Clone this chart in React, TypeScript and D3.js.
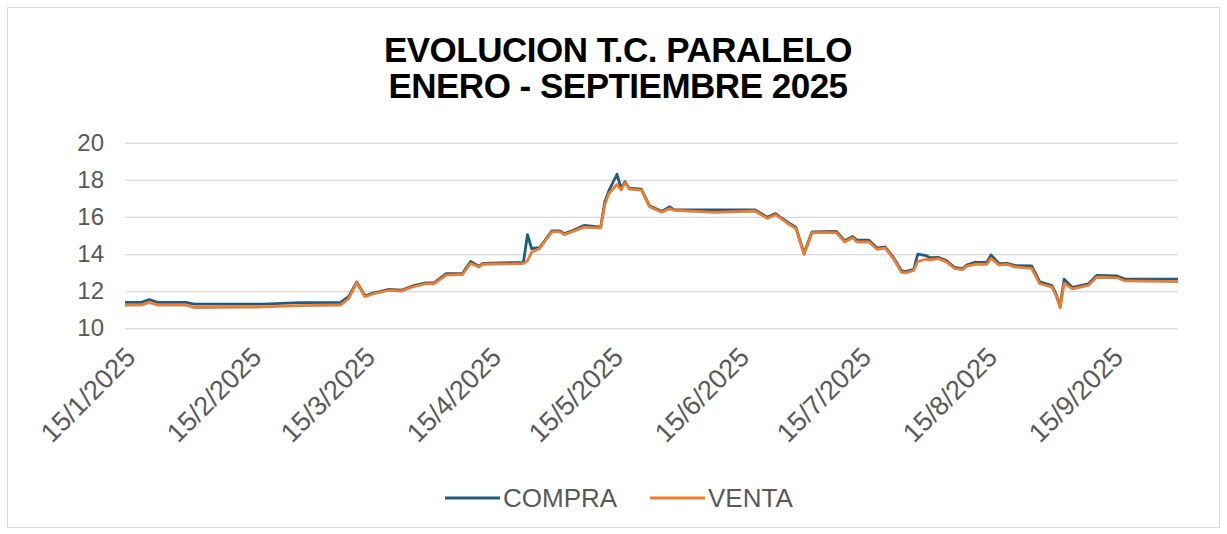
import React, { useEffect, useRef } from 'react';
import * as d3 from 'd3';

// fechas (aprox.)
const dates: string[] = [
  '2025-01-15', '2025-01-19', '2025-01-21', '2025-01-23', '2025-01-30', '2025-02-01',
  '2025-02-18', '2025-02-27', '2025-03-09', '2025-03-11', '2025-03-13', '2025-03-15',
  '2025-03-17', '2025-03-21', '2025-03-24', '2025-03-27', '2025-03-30', '2025-04-01',
  '2025-04-04', '2025-04-08', '2025-04-10', '2025-04-12', '2025-04-13', '2025-04-23',
  '2025-04-24', '2025-04-25', '2025-04-27', '2025-04-30', '2025-05-02', '2025-05-03',
  '2025-05-05', '2025-05-08', '2025-05-12', '2025-05-13', '2025-05-14', '2025-05-16',
  '2025-05-17', '2025-05-18', '2025-05-19', '2025-05-22', '2025-05-24', '2025-05-27',
  '2025-05-29', '2025-05-30', '2025-06-09', '2025-06-19', '2025-06-22', '2025-06-24',
  '2025-06-25', '2025-06-27', '2025-06-29', '2025-07-01', '2025-07-03', '2025-07-09',
  '2025-07-11', '2025-07-13', '2025-07-14', '2025-07-17', '2025-07-19', '2025-07-21',
  '2025-07-23', '2025-07-25', '2025-07-26', '2025-07-28', '2025-07-29', '2025-07-31',
  '2025-08-01', '2025-08-03', '2025-08-05', '2025-08-07', '2025-08-09', '2025-08-10',
  '2025-08-12', '2025-08-15', '2025-08-16', '2025-08-18', '2025-08-20', '2025-08-22',
  '2025-08-26', '2025-08-28', '2025-08-31', '2025-09-01', '2025-09-02', '2025-09-03',
  '2025-09-05', '2025-09-07', '2025-09-09', '2025-09-11', '2025-09-16', '2025-09-18',
  '2025-10-01'
];

const compra: number[] = [
  11.40, 11.40, 11.55, 11.40, 11.40, 11.30,
  11.30, 11.38, 11.40, 11.70, 12.50, 11.75,
  11.90, 12.10, 12.05, 12.30, 12.45, 12.45,
  12.95, 12.95, 13.60, 13.35, 13.50, 13.55,
  15.05, 14.30, 14.35, 15.25, 15.25, 15.10,
  15.25, 15.55, 15.45, 16.80, 17.40, 18.30,
  17.55, 17.90, 17.55, 17.50, 16.60, 16.30,
  16.55, 16.38, 16.38, 16.38, 15.98, 16.18,
  16.02, 15.72, 15.45, 14.05, 15.20, 15.22,
  14.72, 14.95, 14.75, 14.75, 14.32, 14.38,
  13.82, 13.10, 13.05, 13.18, 14.00, 13.92,
  13.80, 13.82, 13.65, 13.28, 13.22, 13.40,
  13.55, 13.55, 13.95, 13.48, 13.50, 13.38,
  13.36, 12.50, 12.30, 11.85, 11.18, 12.65,
  12.20, 12.30, 12.40, 12.85, 12.82, 12.65,
  12.65
];

const venta: number[] = [
  11.25, 11.25, 11.40, 11.25, 11.25, 11.12,
  11.15, 11.22, 11.25, 11.60, 12.45, 11.70,
  11.85, 12.05, 12.00, 12.25, 12.40, 12.40,
  12.87, 12.90, 13.50, 13.30, 13.45, 13.48,
  13.65, 14.10, 14.30, 15.20, 15.20, 15.05,
  15.20, 15.45, 15.40, 16.65, 17.25, 17.75,
  17.45, 17.85, 17.50, 17.45, 16.55, 16.25,
  16.45, 16.35, 16.25, 16.32, 15.92, 16.12,
  15.96, 15.65, 15.38, 13.98, 15.15, 15.15,
  14.65, 14.88, 14.65, 14.65, 14.25, 14.32,
  13.75, 13.02, 12.98, 13.12, 13.60, 13.72,
  13.68, 13.76, 13.58, 13.22, 13.16, 13.35,
  13.45, 13.45, 13.77, 13.40, 13.44, 13.30,
  13.23, 12.40, 12.22, 11.78, 11.10, 12.42,
  12.12, 12.22, 12.32, 12.75, 12.72, 12.55,
  12.52
];

const yTicks = [10, 12, 14, 16, 18, 20];
const titleLines = ['EVOLUCION T.C. PARALELO', 'ENERO - SEPTIEMBRE 2025'];
const seriesNames = ['COMPRA', 'VENTA'];
const colors = ['#1f5c85', '#ed7d31'];

const W = 1227;
const H = 534;
const FONT = "'Liberation Sans', Arial, sans-serif";

const App: React.FC = () => {
  const svgRef = useRef<SVGSVGElement>(null);

  useEffect(() => {
    if (!svgRef.current) return;
    const svg = d3.select(svgRef.current);
    svg.selectAll('*').remove();

    const parse = d3.timeParse('%Y-%m-%d');
    const xs = dates.map(d => parse(d) as Date);
    const left = 125, right = 1178, top = 142.7, bottom = 328.3;

    const x = d3.scaleTime()
      .domain([new Date(2025, 0, 15), new Date(2025, 9, 1)])
      .range([left, right]);
    const y = d3.scaleLinear().domain([10, 20]).range([bottom, top]);

    // borde del gráfico
    svg.append('rect')
      .attr('x', 7.5).attr('y', 7.5)
      .attr('width', 1212).attr('height', 520)
      .attr('fill', '#fff')
      .attr('stroke', '#d9d9d9');

    // titulo
    svg.append('g').selectAll('text')
      .data(titleLines)
      .enter().append('text')
      .attr('x', 618)
      .attr('y', (_, i) => 62 + i * 36)
      .attr('text-anchor', 'middle')
      .attr('font-family', FONT)
      .attr('font-weight', 'bold')
      .attr('font-size', 35)
      .attr('letter-spacing', -0.5)
      .attr('fill', '#000')
      .text(d => d);

    // grilla + eje y
    const yAxis = d3.axisLeft(y).tickValues(yTicks).tickSize(-(right - left)).tickPadding(21);
    const yg = svg.append('g').attr('transform', `translate(${left},0)`).call(yAxis);
    yg.select('.domain').remove();
    yg.selectAll('.tick line').attr('stroke', '#d9d9d9').attr('stroke-width', 1.3);
    yg.selectAll('.tick text')
      .attr('font-family', FONT)
      .attr('font-size', 24)
      .attr('fill', '#595959');

    // eje x
    const monthTicks = d3.range(0, 9).map(m => new Date(2025, m, 15));
    const fmt = d3.timeFormat('%-d/%-m/%Y');
    svg.append('g').selectAll('text')
      .data(monthTicks)
      .enter().append('text')
      .attr('transform', d => `translate(${x(d) + 12},${359}) rotate(-45)`)
      .attr('text-anchor', 'end')
      .attr('font-family', FONT)
      .attr('font-size', 27)
      .attr('fill', '#595959')
      .text(d => fmt(d));

    // lineas
    const series = [compra, venta];
    const line = d3.line<number>()
      .x((_, i) => x(xs[i]))
      .y(v => y(v));

    series.forEach((vals, k) => {
      svg.append('path')
        .datum(vals)
        .attr('d', line)
        .attr('fill', 'none')
        .attr('stroke', colors[k])
        .attr('stroke-width', 2.8)
        .attr('stroke-linejoin', 'round');
    });

    // leyenda
    const legendX = [445, 650];
    const lg = svg.append('g');
    seriesNames.forEach((name, k) => {
      lg.append('line')
        .attr('x1', legendX[k]).attr('x2', legendX[k] + 55)
        .attr('y1', 498).attr('y2', 498)
        .attr('stroke', colors[k])
        .attr('stroke-width', 3);
      lg.append('text')
        .attr('x', legendX[k] + 58)
        .attr('y', 507)
        .attr('font-family', FONT)
        .attr('font-size', 26)
        .attr('fill', '#595959')
        .text(name);
    });
  }, []);

  return (
    <svg
      ref={svgRef}
      width={W}
      height={H}
      style={{ position: 'absolute', left: 0, top: 0, display: 'block', background: '#fff' }}
    />
  );
};

export default App;
